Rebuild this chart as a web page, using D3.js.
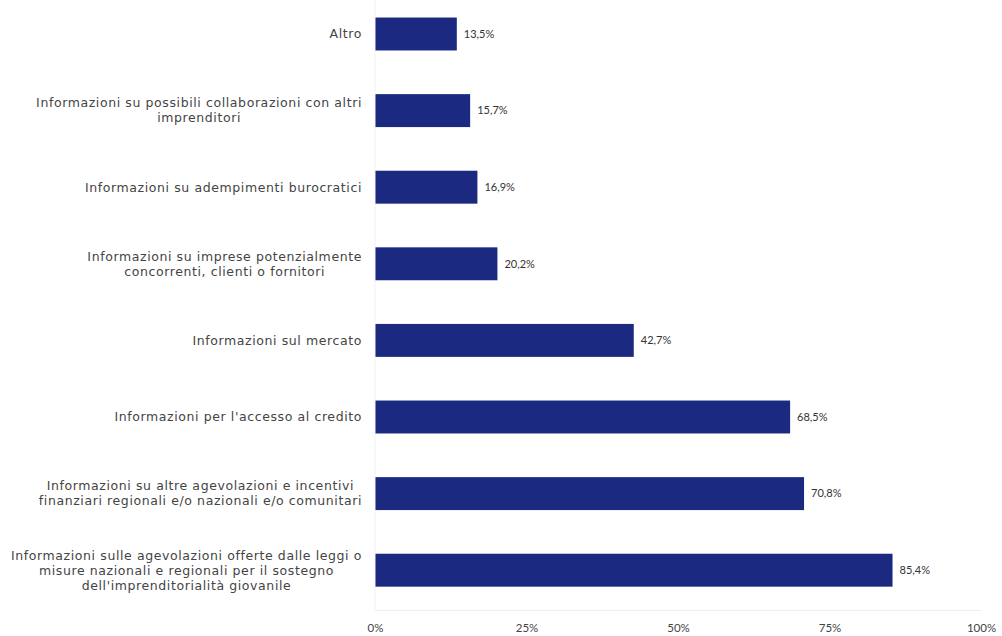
<!DOCTYPE html>
<html>
<head>
<meta charset="utf-8">
<script src="https://cdn.jsdelivr.net/npm/d3@7"></script>
<style>
  html, body { margin: 0; padding: 0; background: #fff; }
  svg { display: block; }
  text { font-family: Lato, "Liberation Sans", sans-serif; }
</style>
</head>
<body>
<svg id="chart" width="1002" height="636"></svg>
<script>
// Categories, top to bottom (each entry split into its display lines)
const categories = [
  ["Altro"],
  ["Informazioni su possibili collaborazioni con altri", "imprenditori"],
  ["Informazioni su adempimenti burocratici"],
  ["Informazioni su imprese potenzialmente", "concorrenti, clienti o fornitori"],
  ["Informazioni sul mercato"],
  ["Informazioni per l'accesso al credito"],
  ["Informazioni su altre agevolazioni e incentivi", "finanziari regionali e/o nazionali e/o comunitari"],
  ["Informazioni sulle agevolazioni offerte dalle leggi o", "misure nazionali e regionali per il sostegno", "dell'imprenditorialità giovanile"]
];
// Share of respondents (%)
const values = [13.5, 15.7, 16.9, 20.2, 42.7, 68.5, 70.8, 85.4];
const tickValues = [0, 25, 50, 75, 100];
const tickLabels = ["0%", "25%", "50%", "75%", "100%"];

const svg = d3.select("#chart");
const keys = categories.map((c, i) => i);

const x = d3.scaleLinear().domain([0, 100]).range([375, 981]);
const y = d3.scaleBand().domain(keys).range([-4.3, 608.5])
  .paddingInner(0.57).paddingOuter(0.285);

const fmt = v => d3.format(".1f")(v).replace(".", ",") + "%";

// bars
svg.append("g").selectAll("rect").data(values).join("rect")
  .attr("x", x(0))
  .attr("y", (d, i) => y(i))
  .attr("width", d => x(d) - x(0))
  .attr("height", y.bandwidth())
  .attr("fill", "#1b2a80");

// value labels
svg.append("g").selectAll("text").data(values).join("text")
  .attr("x", d => x(d) + 7)
  .attr("y", (d, i) => y(i) + y.bandwidth() / 2)
  .attr("dy", "0.35em")
  .attr("font-size", 11)
  .attr("fill", "#333")
  .text(d => fmt(d));

// category labels: block right-aligned to the axis, lines centred inside it
const labelRight = 362;
const lineH = 15;
const lg = svg.append("g");
categories.forEach((lines, i) => {
  const cy = y(i) + y.bandwidth() / 2;
  const t = lg.append("text")
    .attr("font-size", 12.5)
    .attr("fill", "#444")
    .attr("text-anchor", "middle")
    .style("font-family", "'DejaVu Sans', 'Open Sans', sans-serif")
    .style("letter-spacing", "0.6px");
  const spans = lines.map((ln, j) => t.append("tspan")
    .attr("y", cy + (j - (lines.length - 1) / 2) * lineH)
    .attr("dy", "0.35em")
    .text(ln));
  const w = d3.max(spans, s => s.node().getComputedTextLength());
  spans.forEach(s => s.attr("x", labelRight - w / 2));
});

// x axis
const xAxis = d3.axisBottom(x).tickValues(tickValues)
  .tickFormat((d, i) => tickLabels[i]).tickSize(0).tickPadding(14);
const ax = svg.append("g").attr("transform", "translate(0,610)").call(xAxis);
ax.select(".domain").attr("stroke", "#eeeeee");
ax.selectAll("text").attr("font-size", 11.5).attr("fill", "#444")
  .style("font-family", "Lato, 'Liberation Sans', sans-serif");
svg.append("line").attr("x1", x(0)).attr("x2", x(0))
  .attr("y1", 0).attr("y2", 610).attr("stroke", "#f2f2f2");
</script>
</body>
</html>
